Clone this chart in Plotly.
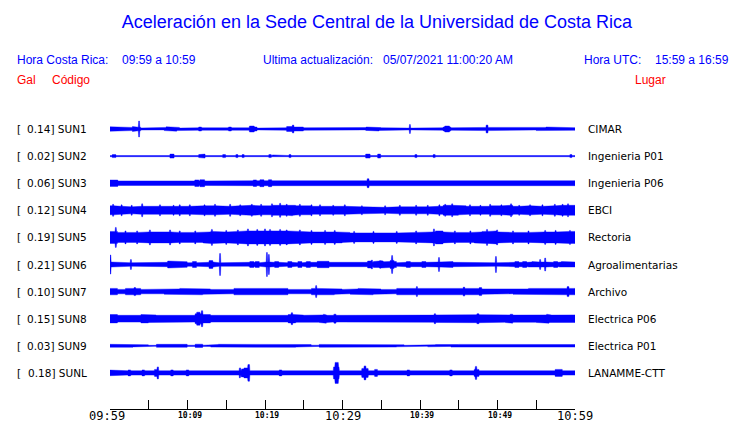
import plotly.graph_objects as go

# ---------------- data ----------------
CODES = ["SUN1", "SUN2", "SUN3", "SUN4", "SUN5", "SUN6", "SUN7", "SUN8", "SUN9", "SUNL"]
PEAK_GAL = [0.14, 0.02, 0.06, 0.12, 0.19, 0.21, 0.10, 0.15, 0.03, 0.18]
PLACES = ["CIMAR", "Ingenieria P01", "Ingenieria P06", "EBCI", "Rectoria",
          "Agroalimentarias", "Archivo", "Electrica P06", "Electrica P01", "LANAMME-CTT"]

TICK_MIN = [0, 5, 10, 15, 20, 25, 30, 35, 40, 45, 50, 55, 60]
TICK_LABELS = ["09:59", "", "10:09", "", "10:19", "", "10:29", "", "10:39", "", "10:49", "", "10:59"]
BIG_TICKS = ["09:59", "10:29", "10:59"]

# per-minute envelope (half height of the trace band, display units)
SUN1_ENV = [2.2, 1.6, 1.6, 1.8, 1.0, 1.0, 0.9, 1.6, 1.6, 0.9,
            0.9, 1.2, 0.9, 0.9, 0.9, 1.2, 0.9, 1.2, 2.0, 0.9,
            0.9, 1.2, 1.2, 2.0, 2.0, 1.2, 1.2, 0.9, 1.2, 1.2,
            1.2, 1.2, 0.9, 1.4, 1.4, 1.2, 0.9, 0.9, 0.9, 1.2,
            1.2, 0.9, 1.2, 2.0, 1.2, 1.2, 1.2, 1.2, 1.6, 1.3,
            1.3, 1.3, 1.0, 1.0, 1.0, 1.6, 1.6, 1.5, 1.3, 1.3]
SUN2_ENV = [0.6, 0.6, 0.6, 0.6, 0.6, 0.6, 0.6, 0.6, 0.6, 0.6,
            0.6, 0.6, 0.6, 0.6, 0.6, 0.6, 0.6, 0.6, 0.6, 0.6,
            0.6, 0.6, 0.6, 0.6, 0.6, 0.6, 0.6, 0.6, 0.6, 0.6,
            0.6, 0.6, 0.6, 0.6, 0.6, 0.6, 0.6, 0.6, 0.6, 0.6,
            0.6, 0.6, 0.6, 0.6, 0.6, 0.6, 0.6, 0.6, 0.6, 0.6,
            0.6, 0.6, 0.6, 0.6, 0.6, 0.6, 0.6, 0.6, 0.6, 0.6]
SUN3_ENV = [3.0, 2.3, 2.3, 2.3, 2.3, 2.3, 2.3, 2.3, 2.3, 2.3,
            2.3, 2.3, 2.3, 2.3, 2.3, 2.3, 2.3, 2.5, 2.5, 2.5,
            2.5, 2.5, 2.5, 2.5, 2.5, 2.5, 2.5, 2.5, 2.5, 2.5,
            2.5, 2.5, 2.5, 2.5, 2.5, 2.5, 2.5, 2.5, 2.5, 2.5,
            2.5, 2.5, 2.5, 2.5, 2.5, 2.5, 2.5, 2.5, 2.5, 2.5,
            2.5, 2.5, 2.5, 2.5, 2.5, 2.5, 2.5, 2.5, 2.5, 2.5]
SUN4_ENV = [4.5, 4.0, 3.5, 3.5, 4.0, 3.5, 4.0, 4.0, 4.0, 4.0,
            4.0, 4.0, 4.5, 4.5, 4.5, 4.0, 4.5, 4.5, 5.0, 4.5,
            4.5, 5.0, 5.0, 5.0, 4.5, 4.5, 4.0, 4.0, 4.0, 4.0,
            4.0, 3.5, 3.5, 3.0, 3.0, 3.0, 3.5, 3.5, 3.5, 3.5,
            3.5, 3.5, 4.0, 5.0, 5.0, 4.5, 4.0, 4.0, 4.0, 4.5,
            4.5, 5.0, 4.0, 4.0, 4.5, 4.0, 4.5, 4.5, 5.0, 5.0]
SUN5_ENV = [6.0, 5.0, 5.0, 5.0, 5.0, 5.5, 5.5, 5.5, 5.0, 5.0,
            5.0, 5.0, 5.5, 6.0, 5.5, 5.5, 6.0, 6.5, 6.5, 6.5,
            6.5, 6.5, 6.5, 6.0, 6.0, 5.5, 5.5, 5.5, 5.5, 5.5,
            5.0, 4.5, 4.5, 4.5, 4.5, 4.5, 4.5, 4.5, 4.5, 5.0,
            5.0, 5.5, 6.5, 5.5, 5.0, 5.0, 5.0, 5.5, 6.0, 6.5,
            5.5, 5.0, 5.0, 5.0, 5.0, 5.5, 5.5, 5.5, 6.0, 6.0]
SUN6_ENV = [2.5, 1.8, 1.8, 2.5, 1.8, 1.8, 1.8, 2.2, 2.8, 2.8,
            1.8, 1.8, 2.2, 2.5, 1.8, 2.2, 2.2, 1.8, 2.2, 1.8,
            2.5, 2.2, 1.8, 2.2, 1.8, 2.2, 2.2, 2.5, 2.2, 1.8,
            1.8, 1.8, 2.2, 2.2, 3.0, 2.8, 3.0, 1.8, 2.2, 2.2,
            2.2, 1.8, 2.5, 2.5, 2.2, 1.8, 1.8, 1.8, 1.8, 1.8,
            1.8, 2.2, 2.2, 2.2, 2.5, 2.5, 2.5, 2.2, 2.5, 2.5]
SUN7_ENV = [3.2, 2.2, 3.2, 3.2, 2.2, 2.2, 2.2, 2.7, 2.7, 3.2,
            3.2, 3.2, 2.7, 2.2, 2.2, 2.2, 3.2, 3.2, 3.2, 2.7,
            2.7, 3.2, 3.2, 2.2, 2.2, 2.2, 3.2, 3.2, 3.2, 2.7,
            2.2, 2.7, 3.2, 3.2, 2.7, 2.2, 2.2, 3.2, 3.2, 3.2,
            3.2, 3.2, 2.7, 2.7, 2.7, 3.2, 3.2, 3.2, 2.7, 2.2,
            2.2, 2.2, 2.7, 2.7, 3.2, 3.2, 3.2, 3.2, 3.2, 3.2]
SUN8_ENV = [4.2, 3.4, 3.4, 3.4, 4.2, 3.8, 3.4, 3.4, 3.4, 3.4,
            3.4, 5.0, 4.2, 3.4, 3.4, 3.4, 3.6, 3.4, 3.4, 3.4,
            3.4, 3.6, 3.4, 4.2, 3.6, 3.4, 3.6, 3.8, 3.4, 3.4,
            3.6, 3.4, 3.4, 3.6, 3.4, 3.4, 3.4, 3.6, 3.4, 3.4,
            3.4, 3.6, 3.8, 3.4, 3.4, 3.6, 3.4, 4.0, 3.6, 3.6,
            3.6, 3.8, 3.6, 3.8, 3.6, 3.8, 3.8, 3.6, 3.8, 3.8]
SUN9_ENV = [1.5, 1.5, 1.5, 1.1, 1.0, 0.5, 1.5, 1.5, 1.5, 1.5,
            0.6, 1.6, 0.6, 1.3, 1.5, 1.5, 1.5, 1.5, 1.5, 1.3,
            1.3, 1.4, 1.4, 1.5, 1.3, 1.3, 0.6, 1.4, 1.4, 1.4,
            0.8, 1.4, 1.4, 1.4, 1.4, 0.8, 1.3, 1.0, 0.5, 0.5,
            0.5, 1.0, 1.3, 0.6, 1.3, 1.4, 1.4, 1.4, 1.3, 1.3,
            1.3, 1.3, 1.3, 0.8, 1.3, 1.0, 1.3, 1.3, 1.0, 1.3]
SUNL_ENV = [2.8, 2.2, 2.2, 2.2, 2.2, 2.2, 2.2, 2.2, 2.2, 2.2,
            2.2, 2.2, 2.2, 2.2, 2.2, 2.2, 2.2, 2.2, 2.2, 2.2,
            2.2, 2.2, 2.2, 2.2, 2.2, 2.2, 2.2, 2.2, 2.2, 2.2,
            2.2, 2.2, 2.2, 2.2, 2.2, 2.2, 2.2, 2.2, 2.2, 2.2,
            2.2, 2.2, 2.2, 2.2, 2.2, 2.2, 2.2, 2.2, 2.2, 2.2,
            2.2, 2.2, 2.2, 2.2, 2.2, 2.2, 2.2, 2.2, 2.2, 2.2]

# bursts / spikes: (minute after 09:59, half height, duration in minutes)
SUN1_EVT = [(3.74, 8.0, 0.15), (3.2, 2.5, 0.6), (7.5, 2.2, 0.5), (8.4, 2.2, 0.4), (11.61, 2.0, 0.4),
            (15.48, 2.0, 0.4), (18.3, 3.0, 0.6), (23.61, 4.0, 0.2), (23.2, 2.5, 0.8), (24.5, 2.5, 0.6),
            (33.3, 2.0, 0.5), (34.5, 2.0, 0.4), (38.71, 4.5, 0.15), (43.5, 3.0, 0.6), (48.65, 4.0, 0.2),
            (56.5, 2.0, 0.5)]
SUN2_EVT = [(0.52, 1.5, 0.5), (1.29, 1.2, 0.3), (8.0, 2.0, 0.5), (11.61, 1.5, 0.4), (12.0, 2.0, 0.5),
            (14.71, 1.5, 0.4), (16.39, 1.5, 0.3), (17.16, 1.5, 0.3), (17.68, 1.2, 0.3), (20.65, 1.5, 0.3),
            (21.03, 1.2, 0.3), (23.23, 1.5, 0.3), (29.55, 1.2, 0.3), (31.74, 1.2, 0.3), (33.29, 2.0, 0.6),
            (34.71, 2.0, 0.4), (39.48, 1.5, 0.3), (41.81, 1.5, 0.3), (59.48, 1.5, 0.3)]
SUN3_EVT = [(0.5, 3.2, 1.0), (7.7, 3.0, 0.3), (8.4, 3.0, 0.3), (11.2, 3.3, 0.5), (11.9, 3.5, 0.6),
            (14.7, 3.0, 0.6), (16.6, 3.0, 0.3), (18.7, 3.3, 0.4), (19.6, 3.5, 0.5), (20.65, 3.5, 0.4),
            (33.29, 4.5, 0.25), (42.06, 3.0, 0.3), (47.23, 3.0, 0.3), (51.87, 2.8, 0.2), (55.48, 2.8, 0.2)]
SUN4_EVT = [(0.39, 6.0, 0.15), (4.13, 6.5, 0.15), (6.45, 5.5, 0.15), (10.32, 5.5, 0.15), (13.55, 6.0, 0.15),
            (15.48, 6.0, 0.15), (18.32, 6.0, 0.15), (20.9, 6.5, 0.15), (21.94, 7.0, 0.15), (24.52, 6.0, 0.15),
            (27.1, 5.5, 0.15), (30.32, 5.5, 0.15), (37.42, 5.0, 0.15), (43.23, 6.0, 0.15), (44.13, 6.5, 0.15),
            (46.45, 5.5, 0.15), (49.03, 6.0, 0.15), (51.74, 6.5, 0.15), (54.19, 5.5, 0.15), (57.42, 6.0, 0.15),
            (59.1, 6.5, 0.15), (1.5, 5.5, 0.15), (2.8, 5.0, 0.15), (8.2, 5.0, 0.15), (9.0, 5.5, 0.15),
            (12.2, 5.5, 0.15), (16.8, 5.5, 0.15), (19.5, 6.0, 0.15), (22.8, 6.0, 0.15), (23.5, 5.5, 0.15),
            (26.0, 5.5, 0.15), (28.8, 5.0, 0.15), (32.5, 4.5, 0.15), (35.5, 4.5, 0.15), (39.5, 5.0, 0.15),
            (41.0, 5.0, 0.15), (42.5, 5.5, 0.15), (47.8, 5.0, 0.15), (50.5, 5.5, 0.15), (52.8, 5.0, 0.15),
            (55.8, 5.5, 0.15), (58.4, 6.0, 0.15)]
SUN5_EVT = [(0.77, 10.0, 0.15), (5.16, 7.5, 0.15), (7.74, 7.5, 0.15), (13.16, 8.0, 0.15), (17.81, 8.5, 0.15),
            (20.0, 8.5, 0.15), (20.65, 8.0, 0.15), (21.94, 8.0, 0.15), (24.52, 7.5, 0.15), (27.74, 7.0, 0.15),
            (41.81, 8.5, 0.15), (48.65, 8.0, 0.15), (49.94, 7.5, 0.15), (56.13, 7.0, 0.15), (59.35, 7.0, 0.15),
            (2.0, 6.5, 0.15), (3.5, 6.5, 0.15), (9.0, 6.5, 0.15), (11.0, 6.5, 0.15), (15.0, 7.0, 0.15),
            (16.5, 7.5, 0.15), (19.0, 8.0, 0.15), (22.8, 7.5, 0.15), (26.0, 7.0, 0.15), (29.0, 7.0, 0.15),
            (31.5, 6.0, 0.15), (34.0, 6.0, 0.15), (37.0, 6.0, 0.15), (39.5, 6.5, 0.15), (44.5, 6.5, 0.15),
            (46.5, 6.5, 0.15), (52.0, 6.5, 0.15), (54.0, 6.5, 0.15), (57.5, 7.0, 0.15)]
SUN6_EVT = [(0.06, 9.5, 0.15), (2.71, 5.0, 0.15), (14.19, 11.0, 0.15), (20.26, 12.0, 0.15), (20.52, 10.0, 0.15),
            (33.81, 4.5, 0.15), (34.84, 4.0, 0.15), (36.39, 9.0, 0.15), (42.45, 7.0, 0.15), (49.81, 8.0, 0.15),
            (55.48, 5.0, 0.15), (56.13, 6.5, 0.15),
            (7.7, 3.5, 0.5), (8.5, 3.5, 0.5), (10.9, 3.0, 0.5), (13.03, 4.0, 0.5), (18.3, 3.0, 0.5),
            (19.0, 3.0, 0.5), (21.5, 3.0, 0.5), (23.2, 3.0, 0.5), (24.5, 3.0, 0.5), (25.6, 3.0, 0.5),
            (27.0, 3.2, 0.5), (28.0, 3.2, 0.5), (33.5, 3.5, 0.5), (35.0, 3.5, 0.5), (36.4, 4.0, 0.5),
            (38.5, 3.0, 0.5), (40.5, 3.0, 0.5), (43.2, 3.0, 0.5), (44.0, 3.0, 0.5), (52.5, 3.0, 0.5),
            (53.5, 3.0, 0.5), (54.7, 3.0, 0.5), (57.5, 3.0, 0.5), (58.5, 3.0, 0.5), (59.3, 3.0, 0.5)]
SUN7_EVT = [(26.58, 6.0, 0.15), (39.61, 5.0, 0.15), (45.68, 4.5, 0.2), (59.1, 5.0, 0.2), (3.2, 4.0, 0.2),
            (47.8, 4.0, 0.3)]
SUN8_EVT = [(11.87, 8.0, 0.2), (11.4, 6.5, 0.4), (23.48, 6.0, 0.2), (29.03, 4.5, 0.3), (41.94, 5.0, 0.2),
            (47.48, 5.0, 0.3), (4.5, 4.5, 0.4), (27.74, 4.5, 0.4), (51.8, 4.5, 0.3), (56.5, 4.5, 0.3)]
SUN9_EVT = [(23.3, 2.0, 0.3), (17.5, 1.8, 0.3), (11.5, 1.8, 0.3)]
SUNL_EVT = [(6.19, 6.0, 0.2), (6.0, 3.5, 0.5), (16.77, 5.0, 0.2), (17.16, 4.0, 0.5), (17.9, 8.3, 0.2),
            (17.6, 5.0, 0.6), (29.25, 10.5, 0.45), (29.2, 6.0, 0.7), (32.9, 7.0, 0.2), (32.9, 4.5, 0.8),
            (34.32, 3.5, 0.4), (47.23, 6.5, 0.2), (47.3, 3.5, 0.6), (57.9, 3.5, 0.9), (2.5, 3.0, 0.3),
            (4.3, 3.0, 0.3), (8.0, 3.0, 0.3), (10.0, 3.0, 0.3), (22.0, 3.0, 0.3), (38.5, 3.0, 0.3),
            (44.0, 3.0, 0.3)]

ENVS = [SUN1_ENV, SUN2_ENV, SUN3_ENV, SUN4_ENV, SUN5_ENV, SUN6_ENV, SUN7_ENV, SUN8_ENV, SUN9_ENV, SUNL_ENV]
EVTS = [SUN1_EVT, SUN2_EVT, SUN3_EVT, SUN4_EVT, SUN5_EVT, SUN6_EVT, SUN7_EVT, SUN8_EVT, SUN9_EVT, SUNL_EVT]

# ---------------- layout constants ----------------
W, H = 740, 423
L, R, T, B = 110, 165, 100, 14
TRACK_PX = 27.1           # pixels between traces
FIRST_PX = 129            # centre of first trace (page px)
BLUE = "#0000ff"
RED = "#ff0000"
SANS = "Liberation Sans, Arial, sans-serif"
DV = "DejaVu Sans, sans-serif"
MONO = "DejaVu Sans Mono, monospace"

y_top = (T - FIRST_PX) / TRACK_PX
y_bot = (H - B - FIRST_PX) / TRACK_PX
S = 1.0 / TRACK_PX
DT = 0.05
NSTEP = 1200


def px_x(px):
    return (px - L) / (W - L - R)


def px_y(py):
    return (H - B - py) / (H - T - B)


fig = go.Figure()
for k, (env, evts) in enumerate(zip(ENVS, EVTS)):
    ts = [i * DT for i in range(NSTEP + 1)]
    amps = []
    for t in ts:
        a = env[min(int(t), 59)]
        for tc, amp, w in evts:
            if abs(t - tc) <= w / 2 + 1e-9 and amp > a:
                a = amp
        amps.append(a)
    xs = ts + ts[::-1]
    ys = [k - a * S for a in amps] + [k + a * S for a in amps[::-1]]
    fig.add_trace(go.Scatter(x=xs, y=ys, mode="lines", fill="toself", fillcolor=BLUE,
                             line=dict(color=BLUE, width=0.4), hoverinfo="skip", showlegend=False))

ann = []
for k, (code, g, place) in enumerate(zip(CODES, PEAK_GAL, PLACES)):
    ann.append(dict(x=px_x(15), xref="paper", y=k, yref="y", text="[", showarrow=False,
                    xanchor="left", yanchor="middle", font=dict(family=DV, size=10.5, color="black")))
    ann.append(dict(x=px_x(89), xref="paper", y=k, yref="y", text=f"{g:.2f}]\u00a0{code}",
                    showarrow=False, xanchor="right", yanchor="middle",
                    font=dict(family=DV, size=10.5, color="black")))
    ann.append(dict(x=px_x(586), xref="paper", y=k, yref="y", text=place, showarrow=False,
                    xanchor="left", yanchor="middle", font=dict(family=DV, size=10.5, color="black")))

header = [
    ("Hora Costa Rica:", 15, 60, BLUE),
    ("09:59 a 10:59", 120, 60, BLUE),
    ("Ultima actualización:", 261, 60, BLUE),
    ("05/07/2021 11:00:20 AM", 381, 60, BLUE),
    ("Hora UTC:", 582, 60, BLUE),
    ("15:59 a 16:59", 653, 60, BLUE),
    ("Gal", 15, 80, RED),
    ("Código", 50, 80, RED),
    ("Lugar", 633, 80, RED),
]
for txt, xp, yp, col in header:
    ann.append(dict(x=px_x(xp), xref="paper", y=px_y(yp), yref="paper", text=txt, showarrow=False,
                    xanchor="left", yanchor="middle", font=dict(family=SANS, size=12, color=col)))

# time-axis labels placed at the tick values of the x axis
for i, (tv, lab) in enumerate(zip(TICK_MIN, TICK_LABELS)):
    if not lab:
        continue
    big = lab in BIG_TICKS
    ann.append(dict(x=tv, xref="x", y=px_y(416 if big else 415), yref="paper", text=lab,
                    showarrow=False, xanchor="center", yanchor="middle",
                    xshift=(-3 if i == 0 else 0) if big else 2,
                    font=dict(family=MONO, size=12 if big else 8, color="black",
                              weight="normal" if big else "bold")))

fig.update_layout(
    width=W, height=H,
    margin=dict(l=L, r=R, t=T, b=B, autoexpand=False),
    paper_bgcolor="white", plot_bgcolor="white",
    title=dict(text="Aceleración en la Sede Central de la Universidad de Costa Rica",
               x=377 / W, xanchor="center", y=1 - 22 / H, yanchor="middle",
               font=dict(family=SANS, size=18, color=BLUE)),
    xaxis=dict(range=[0, 60], tickvals=TICK_MIN, showticklabels=False, ticks="inside", ticklen=9,
               tickcolor="black", tickwidth=1, showline=True, linecolor="black", linewidth=1,
               showgrid=False, zeroline=False, automargin=False),
    yaxis=dict(range=[y_bot, y_top], visible=False, showgrid=False, zeroline=False),
    annotations=ann,
    showlegend=False,
)

fig.write_html("out.html", config={"displayModeBar": False},
               post_script="document.body.style.margin='0px';document.body.style.overflow='hidden';")
